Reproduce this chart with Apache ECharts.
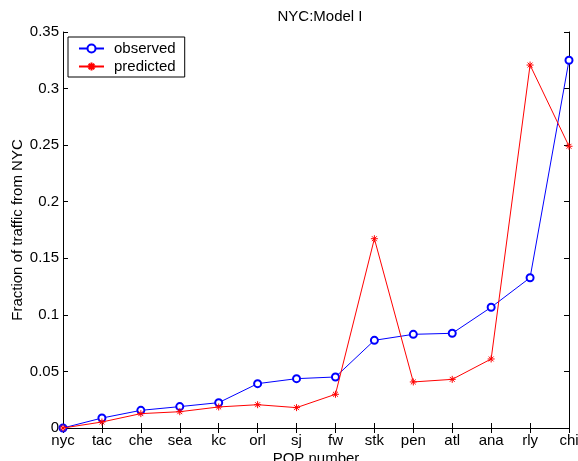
<!DOCTYPE html>
<html>
<head>
<meta charset="utf-8">
<script src="https://cdn.jsdelivr.net/npm/echarts@6/dist/echarts.min.js"></script>
<style>html,body{margin:0;padding:0;background:#fff}#c{width:578px;height:461px}</style>
</head>
<body>
<div id="c"></div>
<script>
const categories = ['nyc','tac','che','sea','kc','orl','sj','fw','stk','pen','atl','ana','rly','chi'];
const observed  = [0, 0.0088, 0.0156, 0.0189, 0.0224, 0.0392, 0.0436, 0.0451, 0.0775, 0.0828, 0.0837, 0.1067, 0.1328, 0.325];
const predicted = [0, 0.0053, 0.0127, 0.0144, 0.0186, 0.0206, 0.018, 0.0298, 0.1673, 0.0407, 0.043, 0.061, 0.3208, 0.249];
const yTicks = { min: 0, max: 0.35, interval: 0.05 };

const FONT = "'Liberation Sans', Arial, sans-serif";
const star = 'path://M5 0 L5 10 M0 5 L10 5 M1.5 1.5 L8.5 8.5 M8.5 1.5 L1.5 8.5';

const chart = echarts.init(document.getElementById('c'));
const axisLine = { show: true, lineStyle: { color: '#000', width: 1 } };
chart.setOption({
  backgroundColor: '#fff',
  animation: false,
  title: {
    text: 'NYC:Model I', left: 315, top: 4, textAlign: 'center',
    textStyle: { fontFamily: FONT, fontSize: 15, fontWeight: 'normal', color: '#000' }
  },
  legend: {
    orient: 'vertical', left: 68, top: 37,
    padding: [4, 9, 3, 10], itemGap: 3, itemWidth: 25, itemHeight: 10,
    borderColor: '#000', borderWidth: 1, backgroundColor: '#fff',
    textStyle: { fontFamily: FONT, fontSize: 15, color: '#000', padding: [0, 0, 0, 5] },
    data: ['observed', 'predicted']
  },
  grid: { left: 63, right: 9, top: 32, bottom: 33, containLabel: false, outerBoundsMode: 'none' },
  xAxis: [
    {
      type: 'category', data: categories, boundaryGap: false,
      name: 'POP number', nameLocation: 'middle', nameGap: 23, nameMoveOverlap: false,
      nameTextStyle: { fontFamily: FONT, fontSize: 15, color: '#000', verticalAlign: 'top' },
      axisLine: axisLine,
      axisTick: { show: true, inside: true, length: 5, alignWithLabel: true, lineStyle: { color: '#000' } },
      axisLabel: { fontFamily: FONT, fontSize: 15, color: '#000', margin: 5, interval: 0 },
      splitLine: { show: false }
    },
    {
      type: 'category', data: categories, boundaryGap: false, position: 'top',
      axisLine: axisLine,
      axisTick: { show: true, inside: true, length: 5, lineStyle: { color: '#000' } },
      axisLabel: { show: false }, splitLine: { show: false }
    }
  ],
  yAxis: [
    {
      type: 'value', min: yTicks.min, max: yTicks.max, interval: yTicks.interval,
      name: 'Fraction of traffic from NYC', nameLocation: 'middle', nameGap: 38, nameRotate: 90,
      nameMoveOverlap: false,
      nameTextStyle: { fontFamily: FONT, fontSize: 15, color: '#000' },
      axisLine: axisLine,
      axisTick: { show: true, inside: true, length: 5, lineStyle: { color: '#000' } },
      axisLabel: { fontFamily: FONT, fontSize: 15, color: '#000', margin: 4,
        formatter: v => String(+v.toFixed(2)) },
      splitLine: { show: false }
    },
    {
      type: 'value', min: yTicks.min, max: yTicks.max, interval: yTicks.interval, position: 'right',
      axisLine: axisLine,
      axisTick: { show: true, inside: true, length: 5, lineStyle: { color: '#000' } },
      axisLabel: { show: false }, splitLine: { show: false }
    }
  ],
  series: [
    {
      name: 'observed', type: 'line', data: observed,
      symbol: 'emptyCircle', symbolSize: 7, showAllSymbol: true,
      lineStyle: { color: '#0000ff', width: 1 },
      itemStyle: { color: '#0000ff', borderColor: '#0000ff', borderWidth: 1 },
      z: 3
    },
    {
      name: 'predicted', type: 'line', data: predicted,
      symbol: star, symbolSize: 7, showAllSymbol: true,
      lineStyle: { color: '#ff0000', width: 1 },
      itemStyle: { color: 'none', borderColor: '#ff0000', borderWidth: 1 },
      z: 4
    }
  ]
});
</script>
</body>
</html>
